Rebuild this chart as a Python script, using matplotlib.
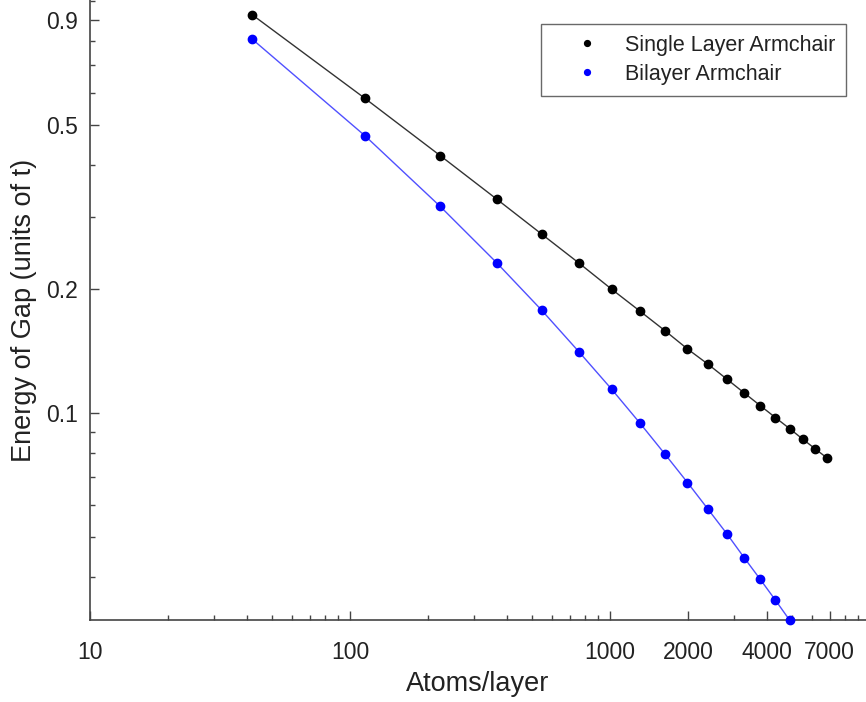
import matplotlib
matplotlib.use('Agg')
import matplotlib.pyplot as plt
from matplotlib.ticker import FixedLocator, FixedFormatter, NullFormatter

plt.rcParams['font.family'] = ['Liberation Sans', 'DejaVu Sans']

# atoms per layer (x) and gap energies (units of t)
atoms_single = [42, 114, 222, 366, 546, 762, 1014, 1302, 1626, 1986,
                2382, 2814, 3282, 3786, 4326, 4902, 5514, 6162, 6846]
gap_single = [0.927, 0.581, 0.422, 0.331, 0.272, 0.231, 0.200, 0.177, 0.1586, 0.1432,
              0.1315, 0.1210, 0.1120, 0.1043, 0.0976, 0.0918, 0.0865, 0.0819, 0.0778]

atoms_bilayer = [42, 114, 222, 366, 546, 762, 1014, 1302, 1626, 1986,
                 2382, 2814, 3282, 3786, 4326, 4902]
gap_bilayer = [0.809, 0.4716, 0.3178, 0.232, 0.1778, 0.1406, 0.1144, 0.0947, 0.0796, 0.0679,
               0.0585, 0.0510, 0.0446, 0.0395, 0.0352, 0.0315]

x_major = [10, 100, 1000, 2000, 4000, 7000]
x_major_labels = ['10', '100', '1000', '2000', '4000', '7000']
x_minor = [20, 30, 40, 50, 60, 70, 80, 90,
           200, 300, 400, 500, 600, 700, 800, 900,
           3000, 5000, 6000, 8000, 9000]
y_major = [0.1, 0.2, 0.5, 0.9]
y_major_labels = ['0.1', '0.2', '0.5', '0.9']
y_minor = [0.04, 0.05, 0.06, 0.07, 0.08, 0.09, 0.3, 0.4, 0.6, 0.7, 0.8, 1.0]

fig = plt.figure(figsize=(8.66, 7.02), dpi=100)
ax = fig.add_axes([90/866, 82/702, 776/866, 620/702])

ax.plot(atoms_single, gap_single, '-', color='#333333', lw=1.0, zorder=2)
ax.plot(atoms_single, gap_single, 'o', color='black', ms=6, ls='none',
        label='Single Layer Armchair', clip_on=False, zorder=3)
ax.plot(atoms_bilayer, gap_bilayer, '-', color='#5050ff', lw=1.0, zorder=2)
ax.plot(atoms_bilayer, gap_bilayer, 'o', color='blue', ms=6, ls='none',
        label='Bilayer Armchair', clip_on=False, zorder=3)

ax.set_xscale('log')
ax.set_yscale('log')
ax.set_xlim(10, 9650)
ax.set_ylim(0.0315, 1.006)

ax.xaxis.set_major_locator(FixedLocator(x_major))
ax.xaxis.set_major_formatter(FixedFormatter(x_major_labels))
ax.xaxis.set_minor_locator(FixedLocator(x_minor))
ax.xaxis.set_minor_formatter(NullFormatter())
ax.yaxis.set_major_locator(FixedLocator(y_major))
ax.yaxis.set_major_formatter(FixedFormatter(y_major_labels))
ax.yaxis.set_minor_locator(FixedLocator(y_minor))
ax.yaxis.set_minor_formatter(NullFormatter())

for side in ['top', 'right']:
    ax.spines[side].set_visible(False)
for side in ['left', 'bottom']:
    ax.spines[side].set_color('#444444')
    ax.spines[side].set_linewidth(1.2)

ax.tick_params(which='both', direction='in', colors='#444444', labelcolor='#222222',
               labelsize=16.5, width=1.0)
ax.tick_params(which='major', length=6.5)
ax.tick_params(which='minor', length=3.5)
ax.tick_params(axis='x', which='major', pad=15)
ax.tick_params(axis='y', which='major', pad=8.5)

ax.set_xlabel('Atoms/layer', fontsize=19.5, color='#222222')
ax.set_ylabel('Energy of Gap (units of t)', fontsize=19.5, color='#222222')
ax.xaxis.set_label_coords(0.5, -0.083)
ax.yaxis.set_label_coords(-0.0677, 0.5)

leg = ax.legend(loc='upper right', bbox_to_anchor=(846/866, 1 - 24/702),
                bbox_transform=fig.transFigure, fontsize=15.5, frameon=True,
                fancybox=False, edgecolor='#444444', markerscale=0.7,
                handlelength=3.28, handletextpad=0.13, borderpad=0.5,
                labelspacing=0.38, borderaxespad=0)
leg.get_frame().set_linewidth(1.0)
for t in leg.get_texts():
    t.set_color('#222222')

fig.savefig('out.png', dpi=100)
